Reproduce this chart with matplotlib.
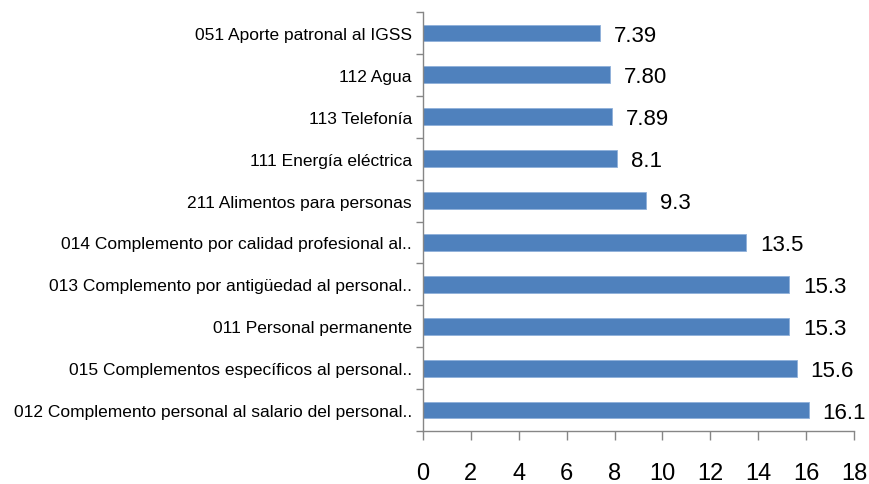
import matplotlib
matplotlib.use("Agg")
import matplotlib.pyplot as plt
from matplotlib.ticker import FixedLocator
import numpy as np

categories = [
    "051 Aporte patronal al IGSS",
    "112 Agua",
    "113 Telefonía",
    "111 Energía eléctrica",
    "211 Alimentos para personas",
    "014 Complemento por calidad profesional al..",
    "013 Complemento por antigüedad al personal..",
    "011 Personal permanente",
    "015 Complementos específicos al personal..",
    "012 Complemento personal al salario del personal..",
]
values = [7.39, 7.80, 7.89, 8.1, 9.3, 13.5, 15.3, 15.3, 15.6, 16.1]
value_labels = ["7.39", "7.80", "7.89", "8.1", "9.3", "13.5", "15.3", "15.3", "15.6", "16.1"]
x_ticks = [0, 2, 4, 6, 8, 10, 12, 14, 16, 18]

FONT = ["Liberation Sans Narrow", "Liberation Sans", "DejaVu Sans"]
plt.rcParams["font.family"] = FONT

fig = plt.figure(figsize=(8.7, 4.85), dpi=100)
ax = fig.add_axes([423 / 870, 1 - 432 / 485, (854 - 423) / 870, (432 - 13) / 485])

y = np.arange(len(categories))
ax.barh(y, values, height=0.4, color="#4F81BD", edgecolor="#8FB0DA", linewidth=0.6, zorder=2)

ax.set_ylim(len(categories) - 0.5, -0.5)
ax.set_xlim(0, 18)
ax.set_xticks(x_ticks)
ax.set_xticklabels([str(t) for t in x_ticks], fontsize=17)
ax.set_yticks(y)
ax.set_yticklabels(categories, fontsize=12.5)
ax.yaxis.set_minor_locator(FixedLocator(np.arange(-0.5, len(categories), 1.0)))

grey = "#868686"
ax.tick_params(axis="y", which="major", length=0, pad=8)
ax.tick_params(axis="y", which="minor", length=5, color=grey, width=1)
ax.tick_params(axis="x", which="major", length=6.5, color=grey, width=1, pad=16)

for s in ["top", "right"]:
    ax.spines[s].set_visible(False)
for s in ["left", "bottom"]:
    ax.spines[s].set_color(grey)
    ax.spines[s].set_linewidth(1)

for yi, v, lab in zip(y, values, value_labels):
    ax.annotate(lab, xy=(v, yi), xytext=(10, -1.5), textcoords="offset points",
                ha="left", va="center", fontsize=16)

fig.savefig("out.png", dpi=100)
